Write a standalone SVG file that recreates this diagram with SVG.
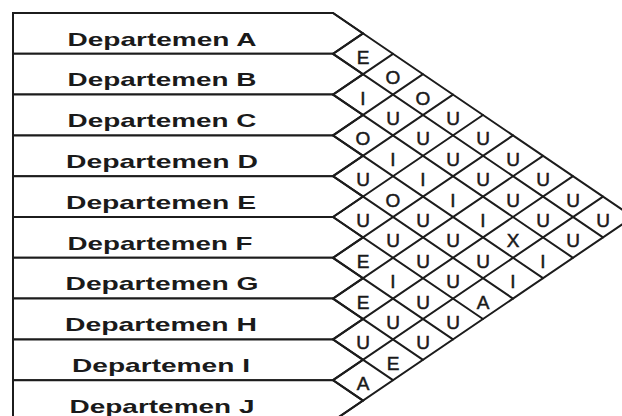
<svg xmlns="http://www.w3.org/2000/svg" width="622" height="416" viewBox="0 0 622 416">
<style>
.box{fill:#fff;stroke:#1c1c1c;stroke-width:2;stroke-linejoin:miter}
.grid line{stroke:#1c1c1c;stroke-width:2;stroke-linecap:round}
.dept{font-family:"Liberation Sans",Arial,sans-serif;font-weight:bold;font-size:19px;fill:#1a1a1a;text-anchor:middle}
.rel{font-family:"Liberation Sans",Arial,sans-serif;font-size:19px;fill:#1a1a1a;stroke:#1a1a1a;stroke-width:0.5;text-anchor:middle}
</style>
<rect width="622" height="416" fill="#fff"/>
<g id="dept-A"><polygon class="box" points="13,13 333,13 363,33.4 333,53.8 13,53.8"/><text class="dept" x="162" y="45.5" textLength="189" lengthAdjust="spacingAndGlyphs">Departemen A</text></g>
<g id="dept-B"><polygon class="box" points="13,53.8 333,53.8 363,74.2 333,94.6 13,94.6"/><text class="dept" x="162" y="86.3" textLength="189" lengthAdjust="spacingAndGlyphs">Departemen B</text></g>
<g id="dept-C"><polygon class="box" points="13,94.6 333,94.6 363,115 333,135.4 13,135.4"/><text class="dept" x="162" y="127.1" textLength="189" lengthAdjust="spacingAndGlyphs">Departemen C</text></g>
<g id="dept-D"><polygon class="box" points="13,135.4 333,135.4 363,155.8 333,176.2 13,176.2"/><text class="dept" x="162" y="167.9" textLength="192" lengthAdjust="spacingAndGlyphs">Departemen D</text></g>
<g id="dept-E"><polygon class="box" points="13,176.2 333,176.2 363,196.6 333,217 13,217"/><text class="dept" x="161" y="208.7" textLength="190" lengthAdjust="spacingAndGlyphs">Departemen E</text></g>
<g id="dept-F"><polygon class="box" points="13,217 333,217 363,237.4 333,257.8 13,257.8"/><text class="dept" x="160" y="249.5" textLength="185" lengthAdjust="spacingAndGlyphs">Departemen F</text></g>
<g id="dept-G"><polygon class="box" points="13,257.8 333,257.8 363,278.2 333,298.6 13,298.6"/><text class="dept" x="162" y="290.3" textLength="193" lengthAdjust="spacingAndGlyphs">Departemen G</text></g>
<g id="dept-H"><polygon class="box" points="13,298.6 333,298.6 363,319 333,339.4 13,339.4"/><text class="dept" x="161" y="331.1" textLength="192" lengthAdjust="spacingAndGlyphs">Departemen H</text></g>
<g id="dept-I"><polygon class="box" points="13,339.4 333,339.4 363,359.8 333,380.2 13,380.2"/><text class="dept" x="161" y="371.9" textLength="178" lengthAdjust="spacingAndGlyphs">Departemen I</text></g>
<g id="dept-J"><polygon class="box" points="13,380.2 333,380.2 363,400.6 333,421 13,421"/><text class="dept" x="162" y="412.7" textLength="185" lengthAdjust="spacingAndGlyphs">Departemen J</text></g>
<g id="connectors" class="grid">
<line x1="333" y1="13" x2="633" y2="217"/>
<line x1="333" y1="53.8" x2="603" y2="237.4"/>
<line x1="333" y1="94.6" x2="573" y2="257.8"/>
<line x1="333" y1="135.4" x2="543" y2="278.2"/>
<line x1="333" y1="176.2" x2="513" y2="298.6"/>
<line x1="333" y1="217" x2="483" y2="319"/>
<line x1="333" y1="257.8" x2="453" y2="339.4"/>
<line x1="333" y1="298.6" x2="423" y2="359.8"/>
<line x1="333" y1="339.4" x2="393" y2="380.2"/>
<line x1="333" y1="380.2" x2="363" y2="400.6"/>
<line x1="333" y1="53.8" x2="363" y2="33.4"/>
<line x1="333" y1="94.6" x2="393" y2="53.8"/>
<line x1="333" y1="135.4" x2="423" y2="74.2"/>
<line x1="333" y1="176.2" x2="453" y2="94.6"/>
<line x1="333" y1="217" x2="483" y2="115"/>
<line x1="333" y1="257.8" x2="513" y2="135.4"/>
<line x1="333" y1="298.6" x2="543" y2="155.8"/>
<line x1="333" y1="339.4" x2="573" y2="176.2"/>
<line x1="333" y1="380.2" x2="603" y2="196.6"/>
<line x1="333" y1="421" x2="633" y2="217"/>
</g>
<g id="relationships" class="rel">
<text x="363" y="63.8">E</text>
<text x="393" y="84.2">O</text>
<text x="423" y="104.6">O</text>
<text x="453" y="125">U</text>
<text x="483" y="145.4">U</text>
<text x="513" y="165.8">U</text>
<text x="543" y="186.2">U</text>
<text x="573" y="206.6">U</text>
<text x="603" y="227">U</text>
<text x="363" y="104.6">I</text>
<text x="393" y="125">U</text>
<text x="423" y="145.4">U</text>
<text x="453" y="165.8">U</text>
<text x="483" y="186.2">U</text>
<text x="513" y="206.6">U</text>
<text x="543" y="227">U</text>
<text x="573" y="247.4">U</text>
<text x="363" y="145.4">O</text>
<text x="393" y="165.8">I</text>
<text x="423" y="186.2">I</text>
<text x="453" y="206.6">I</text>
<text x="483" y="227">I</text>
<text x="513" y="247.4">X</text>
<text x="543" y="267.8">I</text>
<text x="363" y="186.2">U</text>
<text x="393" y="206.6">O</text>
<text x="423" y="227">U</text>
<text x="453" y="247.4">U</text>
<text x="483" y="267.8">U</text>
<text x="513" y="288.2">I</text>
<text x="363" y="227">U</text>
<text x="393" y="247.4">U</text>
<text x="423" y="267.8">U</text>
<text x="453" y="288.2">U</text>
<text x="483" y="308.6">A</text>
<text x="363" y="267.8">E</text>
<text x="393" y="288.2">I</text>
<text x="423" y="308.6">U</text>
<text x="453" y="329">U</text>
<text x="363" y="308.6">E</text>
<text x="393" y="329">U</text>
<text x="423" y="349.4">U</text>
<text x="363" y="349.4">U</text>
<text x="393" y="369.8">E</text>
<text x="363" y="390.2">A</text>
</g>
</svg>
